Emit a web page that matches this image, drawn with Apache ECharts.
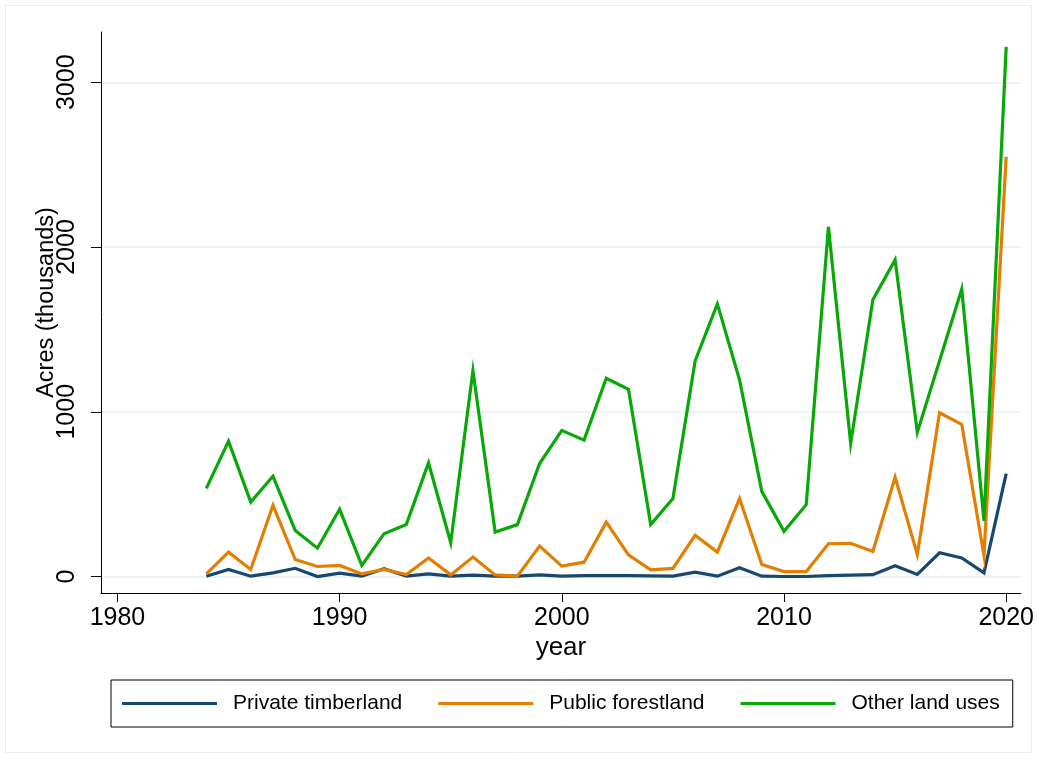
<!DOCTYPE html>
<html>
<head>
<meta charset="utf-8">
<style>
  html, body { margin: 0; padding: 0; background: #ffffff; }
  #chart { width: 1037px; height: 759px; }
</style>
<script src="https://cdn.jsdelivr.net/npm/echarts@6.0.0/dist/echarts.min.js"></script>
</head>
<body>
<div id="chart"></div>
<script>
// Acres burned (thousands) by land ownership, 1984-2020
const years = [
  1984, 1985, 1986, 1987, 1988, 1989, 1990, 1991, 1992, 1993,
  1994, 1995, 1996, 1997, 1998, 1999, 2000, 2001, 2002, 2003,
  2004, 2005, 2006, 2007, 2008, 2009, 2010, 2011, 2012, 2013,
  2014, 2015, 2016, 2017, 2018, 2019, 2020
];
const privateTimberland = [
  2, 43, 2, 22, 50, 0, 20, 2, 47, 2,
  16, 2, 8, 3, 2, 10, 3, 6, 6, 6,
  4, 3, 26, 2, 53, 2, 0, 0, 6, 8,
  11, 66, 13, 144, 113, 22, 625
];
const publicForestland = [
  16, 148, 43, 432, 103, 61, 67, 16, 43, 12,
  112, 10, 118, 10, 2, 185, 63, 87, 330, 132,
  41, 49, 250, 148, 473, 73, 30, 30, 199, 202,
  152, 603, 133, 994, 923, 128, 2547
];
const otherLandUses = [
  535, 822, 452, 609, 280, 172, 408, 67, 260, 316,
  690, 205, 1250, 270, 315, 686, 887, 828, 1203, 1136,
  315, 473, 1308, 1655, 1193, 517, 274, 436, 2122, 808,
  1680, 1922, 875, 1310, 1745, 338, 3215
];
const xTicks = [1980, 1990, 2000, 2010, 2020];
const yTicks = [0, 1000, 2000, 3000];

const seriesNames = ['Private timberland', 'Public forestland', 'Other land uses'];
const seriesColors = ['#1a476f', '#e37e00', '#08a808'];
const seriesValues = [privateTimberland, publicForestland, otherLandUses];

const FONT = 'Liberation Sans, Arial, sans-serif';
const plain = v => String(v);

const chart = echarts.init(document.getElementById('chart'), null, { renderer: 'canvas' });

chart.setOption({
  animation: false,
  backgroundColor: '#ffffff',
  textStyle: { fontFamily: FONT, color: '#000' },
  graphic: [{
    type: 'rect',
    silent: true,
    z: -10,
    shape: { x: 5.5, y: 5.5, width: 1026, height: 747 },
    style: { fill: 'none', stroke: '#e9eef2', lineWidth: 1 }
  }],
  grid: { left: 101, top: 32, right: 15, bottom: 166, containLabel: false },
  legend: {
    left: 111,
    top: 680,
    orient: 'horizontal',
    data: seriesNames,
    icon: 'rect',
    itemWidth: 95,
    itemHeight: 3,
    itemGap: 36,
    padding: [13, 13, 13, 11],
    borderColor: '#000',
    borderWidth: 1,
    textStyle: { fontFamily: FONT, fontSize: 21, color: '#000', padding: [0, 0, 0, 11] }
  },
  xAxis: {
    type: 'value',
    min: 1979.26,
    max: 2020.66,
    name: 'year',
    nameLocation: 'middle',
    nameGap: 42,
    nameMoveOverlap: false,
    nameTextStyle: { fontFamily: FONT, fontSize: 26, color: '#000' },
    axisLine: { show: true, onZero: false, lineStyle: { color: '#000', width: 1 } },
    axisTick: { show: true, customValues: xTicks, length: 9, lineStyle: { color: '#000', width: 1 } },
    axisLabel: { customValues: xTicks, formatter: plain, fontFamily: FONT, fontSize: 25, color: '#000', margin: 13 },
    splitLine: { show: false }
  },
  yAxis: {
    type: 'value',
    min: -100,
    max: 3305,
    name: 'Acres (thousands)',
    nameLocation: 'middle',
    nameGap: 42,
    nameMoveOverlap: false,
    nameTextStyle: { fontFamily: FONT, fontSize: 23.5, color: '#000', padding: [0, 0, 0, 20] },
    axisLine: { show: true, onZero: false, lineStyle: { color: '#000', width: 1 } },
    axisTick: { show: true, customValues: yTicks, length: 10, lineStyle: { color: '#000', width: 1 } },
    axisLabel: { customValues: yTicks, formatter: plain, rotate: 90, fontFamily: FONT, fontSize: 25, color: '#000', margin: 21 },
    splitLine: { show: true, lineStyle: { color: '#e6eff2', width: 1.5 } }
  },
  series: seriesNames.map((name, i) => ({
    name: name,
    type: 'line',
    symbol: 'none',
    z: 2 + i,
    lineStyle: { color: seriesColors[i], width: 3.2, join: 'miter' },
    itemStyle: { color: seriesColors[i] },
    data: years.map((y, k) => [y, seriesValues[i][k]])
  }))
});
</script>
</body>
</html>
